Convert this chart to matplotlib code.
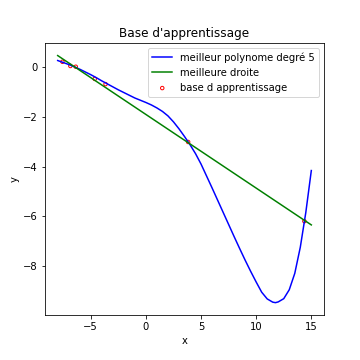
import numpy as np
import matplotlib
matplotlib.use("Agg")
import matplotlib.pyplot as plt

# points d'apprentissage
x_app = [-7.57, -6.85, -6.36, -4.64, -3.66, 3.83, 14.37]
y_app = [0.22, 0.05, 0.02, -0.47, -0.68, -3.01, -6.2]

# meilleur polynome degre 5 (echantillonne tous les 0.5)
x_poly = [-8, -7.5, -7, -6.5, -6, -5.5, -5, -4.5, -4, -3.5, -3, -2.5, -2,
          -1.5, -1, -0.5, 0, 0.5, 1, 1.5, 2, 2.5, 3, 3.5, 4, 4.5, 5, 5.5,
          6, 6.5, 7, 7.5, 8, 8.5, 9, 9.5, 10, 10.5, 11, 11.5, 11.75, 12,
          12.5, 13, 13.5, 14, 14.5, 15]
y_poly = [0.27, 0.19, 0.11, 0.02, -0.08, -0.19, -0.30, -0.42, -0.55, -0.67,
          -0.79, -0.91, -1.02, -1.13, -1.24, -1.33, -1.42, -1.52, -1.64,
          -1.78, -1.96, -2.20, -2.48, -2.79, -3.12, -3.48, -3.90, -4.38,
          -4.86, -5.35, -5.84, -6.33, -6.82, -7.30, -7.77, -8.22, -8.65,
          -9.06, -9.33, -9.46, -9.48, -9.45, -9.32, -8.96, -8.30, -7.25,
          -5.85, -4.16]

# meilleure droite
x_droite = [-8, 15]
y_droite = [0.47, -6.35]

fig = plt.figure(figsize=(5, 5), dpi=72)
plt.subplots_adjust(bottom=0.125)
plt.plot(x_poly, y_poly, 'b', label="meilleur polynome degré 5")
plt.plot(x_droite, y_droite, 'g', label="meilleure droite")
plt.scatter(x_app, y_app, s=12, facecolors='none', edgecolors='r',
            label="base d apprentissage")
plt.title("Base d'apprentissage")
plt.xlabel("x")
plt.ylabel("y")
plt.legend(loc="upper right")
plt.savefig("out.png", dpi=72)
